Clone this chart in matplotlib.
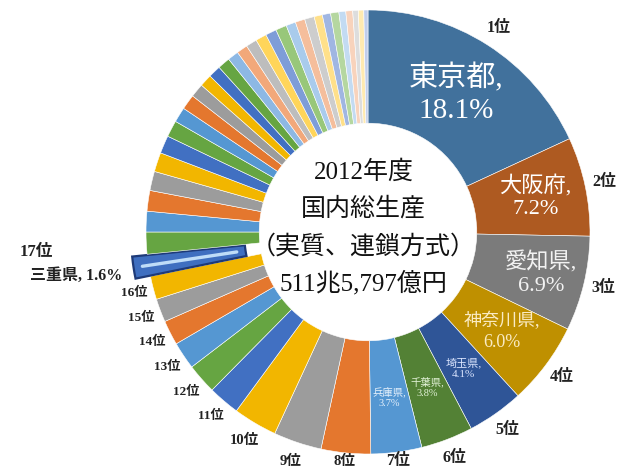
import numpy as np
import matplotlib.pyplot as plt

# 2012 real GDP share by prefecture, ranks 1-47 (percent)
shares = [18.1, 7.2, 6.9, 6.0, 4.1, 3.8, 3.7, 3.6, 3.5, 3.2,
          2.3, 2.2, 2.0, 1.8, 1.7, 1.7, 1.6, 1.6, 1.5, 1.5,
          1.4, 1.4, 1.3, 1.2, 1.1, 1.1, 1.0, 0.9, 0.9, 0.9,
          0.8, 0.8, 0.8, 0.8, 0.8, 0.8, 0.7, 0.7, 0.7, 0.6,
          0.6, 0.6, 0.5, 0.5, 0.4, 0.4, 0.3]
top_names = ['東京都', '大阪府', '愛知県', '神奈川県', '埼玉県', '千葉県', '兵庫県']
mie_rank = 17
mie_name = '三重県'
center_lines = ['2012年度', '国内総生産', '（実質、連鎖方式）', '511兆5,797億円']

FONT = ['Liberation Serif', 'Noto Sans CJK JP']

# colours: darker shades for the first six, then Excel-like cycle, then lighter tints
dark = ['#41719C', '#AE5A21', '#7B7B7B', '#BF9000', '#2F5597', '#538135']
base = ['#5597D2', '#E4772E', '#9C9C9C', '#F2B600', '#4170C2', '#66A542']
light1 = ['#8DB8E4', '#F2A87A', '#BDBDBD', '#FFD55A', '#7E9DD8', '#98C77A']
light2 = ['#A9CBEC', '#F5BE9C', '#CDCDCD', '#FFE08A', '#A0B6E2', '#B5D7A0']
light3 = ['#C3DBF2', '#F8D3BC', '#DDDDDD', '#FFEAB0', '#C0CEEC', '#CFE4C2']

colors = []
for i in range(len(shares)):
    rank = i + 1
    if rank <= 6:
        colors.append(dark[i])
    elif rank <= 30:
        colors.append(base[(rank - 7) % 6])
    elif rank <= 36:
        colors.append(light1[(rank - 31) % 6])
    elif rank <= 42:
        colors.append(light2[(rank - 37) % 6])
    else:
        colors.append(light3[(rank - 43) % 6])
colors[mie_rank - 1] = '#3F6FC0'

explode = [0.0] * len(shares)
explode[mie_rank - 1] = 0.068

W, H = 638, 472
cx, cy, scale = 368, 232, 222

fig = plt.figure(figsize=(W / 100, H / 100), dpi=100)
ax = fig.add_axes([0, 0, 1, 1])
wedges, _ = ax.pie(shares, colors=colors, startangle=90, counterclock=False,
                   radius=1, explode=explode,
                   wedgeprops=dict(width=0.51, edgecolor='white', linewidth=0.4))
ax.set_xlim(-cx / scale, (W - cx) / scale)
ax.set_ylim(-(H - cy) / scale, cy / scale)
ax.set_aspect('auto')
ax.axis('off')


def polar(w, r):
    a = np.deg2rad((w.theta1 + w.theta2) / 2)
    return w.center[0] + r * np.cos(a), w.center[1] + r * np.sin(a)


# Mie wedge: darker edge and a light highlight streak
mw = wedges[mie_rank - 1]
mw.set_edgecolor('#1E3A78')
mw.set_linewidth(1.6)
x0, y0 = polar(mw, 0.53)
x1, y1 = polar(mw, 0.96)
ax.plot([x0, x1], [y0, y1], color='#BFDDF8', lw=2.4, solid_capstyle='round', zorder=5)

# rank labels outside
for i in range(16):
    rank = i + 1
    size = 11.5 if rank <= 7 else (10.5 if rank <= 10 else 9.5)
    r = 1.04 if rank in (7, 8) else 1.09
    x, y = polar(wedges[i], r)
    ax.text(x, y, f'{rank}位', ha='center', va='center', fontsize=size,
            fontweight='bold', family=FONT, color='#222222')

# labels inside the top seven
inner = [(0.74, 21, '#FFFFFF'), (0.77, 16, '#FFFFFF'), (0.80, 16, '#F2F2F2'),
         (0.75, 13, '#FAEBC3'), (0.75, 8, '#DCE6FF'), (0.75, 7.5, '#E3F2D8'),
         (0.75, 7.5, '#E6F1FC')]
for i, (r, size, col) in enumerate(inner):
    x, y = polar(wedges[i], r)
    ax.text(x, y, f'{top_names[i]},\n{shares[i]:.1f}%', ha='center', va='center',
            fontsize=size, family=FONT, color=col, linespacing=1.25)

# Mie label on the left
a = np.deg2rad((mw.theta1 + mw.theta2) / 2)
lx, ly = 1.33 * np.cos(a), 1.33 * np.sin(a)
ax.text(lx, ly, f'{mie_name}, {shares[mie_rank - 1]:.1f}%', ha='center', va='center',
        fontsize=11.5, fontweight='bold', family=FONT, color='#222222')
ax.text(lx - 0.18, ly + 0.108, f'{mie_rank}位', ha='center', va='center',
        fontsize=12, fontweight='bold', family=FONT, color='#222222')

# centre text
for k, line in enumerate(center_lines):
    ax.text(-0.02, 0.27 - k * 0.167, line, ha='center', va='center',
            fontsize=18, family=FONT, color='#111111')

fig.savefig('out.png', dpi=100, facecolor='white')
